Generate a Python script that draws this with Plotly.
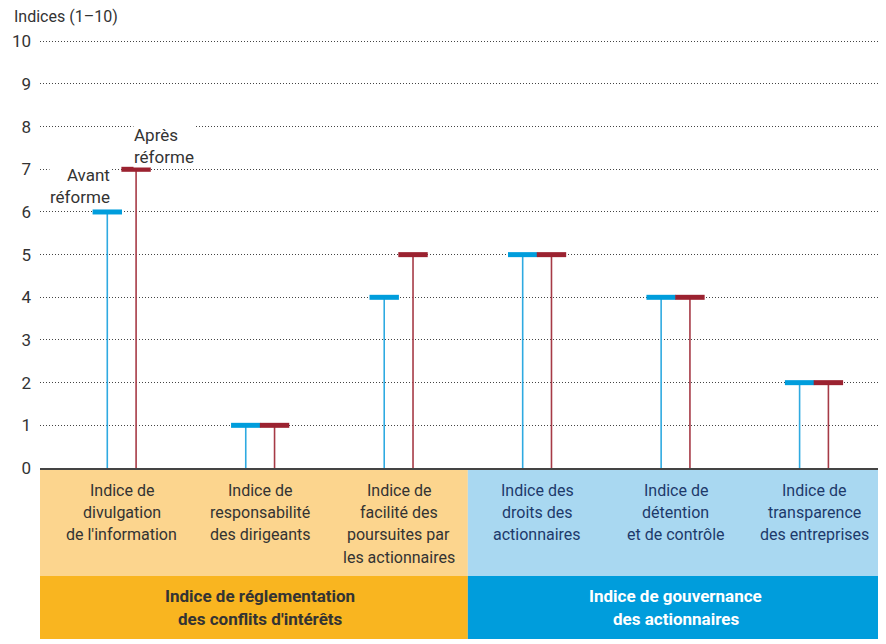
import plotly.graph_objects as go

# ---------------- data ----------------
categories = [
    "Indice de<br>divulgation<br>de l'information",
    "Indice de<br>responsabilité<br>des dirigeants",
    "Indice de<br>facilité des<br>poursuites par<br>les actionnaires",
    "Indice des<br>droits des<br>actionnaires",
    "Indice de<br>détention<br>et de contrôle",
    "Indice de<br>transparence<br>des entreprises",
]
avant_reforme = [6, 1, 4, 5, 4, 2]
apres_reforme = [7, 1, 5, 5, 4, 2]
group_labels = [
    "Indice de réglementation<br>des conflits d'intérêts",
    "Indice de gouvernance<br>des actionnaires",
]
group_sizes = [3, 3]
y_ticks = [0, 1, 2, 3, 4, 5, 6, 7, 8, 9, 10]
series_names = ["Avant<br>réforme", "Après<br>réforme"]

# ---------------- style ----------------
FONT = "Roboto, 'Noto Sans', sans-serif"
BLUE_CAP = "#009ddc"
BLUE_STEM = "#2eaae1"
RED_CAP = "#9b2230"
RED_STEM = "#a63a46"
ORANGE_LIGHT = "#fcd58e"
ORANGE_DARK = "#f9b520"
BLUE_LIGHT = "#a9d8f1"
BLUE_DARK = "#009ddc"
TEXT = "#333333"
NAVY = "#1d3a6b"

# page has an 8px body margin: compensate so the plot sits where the reference does
PAGE_OFF = 8
W, H = 886 - PAGE_OFF, 644 - PAGE_OFF
ML, MR, MT = 40 - PAGE_OFF, 0, 40 - PAGE_OFF
plot_h = 428
MB = H - MT - plot_h
plot_w = W - ML - MR
BASE = 468  # page y of the zero line
OFF = 0.104
XR = [-0.59, 5.52]

idx = list(range(len(categories)))

fig = go.Figure()


def stems(offset, vals):
    xs, ys = [], []
    for i, v in zip(idx, vals):
        xs += [i + offset, i + offset, None]
        ys += [0, v, None]
    return xs, ys


for offset, vals, stem_c, cap_c in [
    (-OFF, avant_reforme, BLUE_STEM, BLUE_CAP),
    (OFF, apres_reforme, RED_STEM, RED_CAP),
]:
    xs, ys = stems(offset, vals)
    fig.add_trace(go.Scatter(x=xs, y=ys, mode="lines",
                             line=dict(color=stem_c, width=1.6),
                             hoverinfo="skip", showlegend=False))
    fig.add_trace(go.Scatter(
        x=[i + offset for i in idx], y=vals, mode="markers",
        marker=dict(symbol="line-ew", size=21,
                    line=dict(color=cap_c, width=5)),
        showlegend=False))

# bands
split = group_sizes[0] - 0.5
bands = [
    (XR[0], split, ORANGE_LIGHT, ORANGE_DARK),
    (split, XR[1], BLUE_LIGHT, BLUE_DARK),
]
y_light = -(576 - BASE) / plot_h
y_dark = -(639 - BASE) / plot_h
for x0, x1, cl, cd in bands:
    fig.add_shape(type="rect", xref="x", yref="paper", x0=x0, x1=x1,
                  y0=0, y1=y_light, fillcolor=cl, line_width=0, layer="below")
    fig.add_shape(type="rect", xref="x", yref="paper", x0=x0, x1=x1,
                  y0=y_light, y1=y_dark, fillcolor=cd, line_width=0, layer="below")

annotations = []
# category labels, one annotation per line for line spacing
for i, cat in zip(idx, categories):
    color = TEXT if i < group_sizes[0] else NAVY
    for k, line in enumerate(cat.split("<br>")):
        ypix = 490 + k * 22.4
        annotations.append(dict(
            x=i, xref="x", y=-(ypix - BASE) / plot_h, yref="paper",
            text=line, showarrow=False, xanchor="center", yanchor="middle",
            font=dict(family=FONT, size=16, color=color)))

# group labels
start = 0
for g, (lab, n) in enumerate(zip(group_labels, group_sizes)):
    center = start + (n - 1) / 2
    color = TEXT if g == 0 else "white"
    for k, line in enumerate(lab.split("<br>")):
        ypix = 596 + k * 23
        annotations.append(dict(
            x=center, xref="x", y=-(ypix - BASE) / plot_h, yref="paper",
            text="<b>" + line + "</b>", showarrow=False, xanchor="center",
            yanchor="middle", font=dict(family=FONT, size=17, color=color)))
    start += n

# series labels
annotations.append(dict(
    x=idx[0] - 0.075, y=6.6, xref="x", yref="y", text=series_names[0],
    showarrow=False, xanchor="right", yanchor="middle", align="right",
    bgcolor="white", borderpad=0,
    font=dict(family=FONT, size=17, color=TEXT)))
annotations.append(dict(
    x=idx[0] + 0.083, y=7.55, xref="x", yref="y", text=series_names[1],
    showarrow=False, xanchor="left", yanchor="middle", align="left",
    bgcolor="white", borderpad=0,
    font=dict(family=FONT, size=17, color=TEXT)))

# y title
annotations.append(dict(
    x=-28 / plot_w, xref="paper", y=1 + (40 - 17) / plot_h, yref="paper",
    text="Indices (1–10)", showarrow=False, xanchor="left", yanchor="middle",
    font=dict(family=FONT, size=16, color=TEXT)))

fig.update_layout(
    width=W, height=H,
    margin=dict(l=ML, r=MR, t=MT, b=MB),
    paper_bgcolor="white", plot_bgcolor="white",
    font=dict(family=FONT, size=15, color=TEXT),
    showlegend=False,
    annotations=annotations,
    xaxis=dict(range=XR, showticklabels=False, showgrid=False, zeroline=False,
               showline=True, linecolor="#444444", linewidth=1.5, fixedrange=True),
    yaxis=dict(range=[0, 10.03], tickvals=y_ticks, showgrid=True,
               gridcolor="#444444", gridwidth=1, griddash="1px,2px",
               zeroline=False, showline=False, ticks="",
               ticklabelstandoff=8, automargin=False,
               tickfont=dict(family=FONT, size=17, color=TEXT), fixedrange=True),
)

fig.write_html("out.html")
